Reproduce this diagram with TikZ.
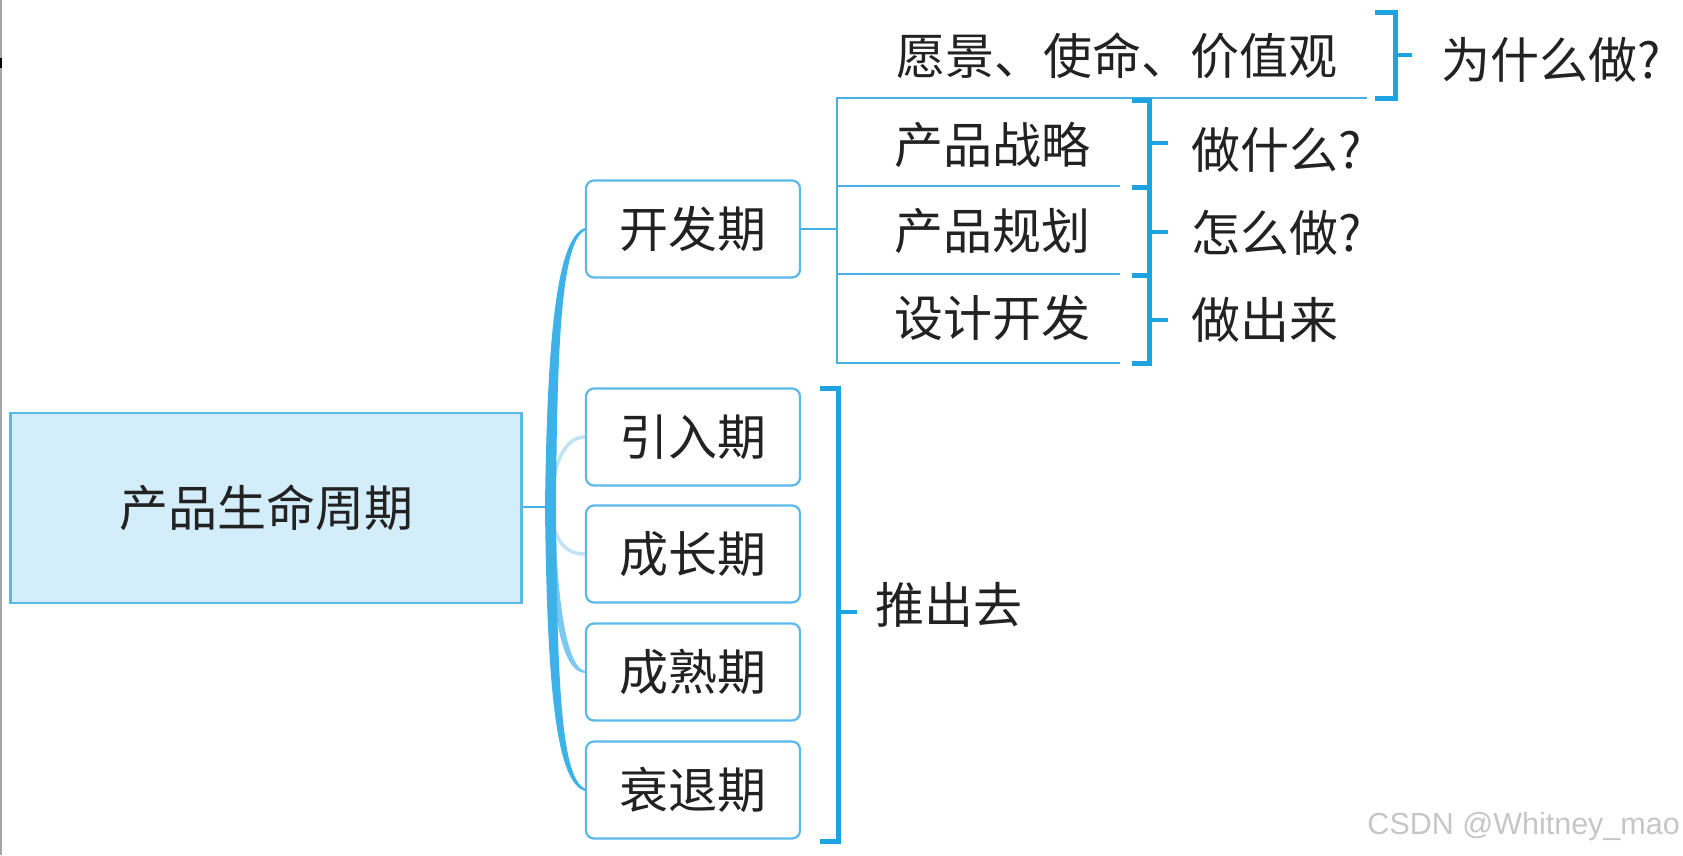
\documentclass[tikz,border=0pt]{standalone}
\usepackage{fontspec}
\newfontfamily\cjk{Noto Sans CJK SC}
\setsansfont{Liberation Sans}
\usetikzlibrary{calc}
\definecolor{boxline}{HTML}{5BB8E8}
\definecolor{rootfill}{HTML}{D4EDFA}
\definecolor{trunk}{HTML}{3DB2E8}
\definecolor{midtrunk}{HTML}{7CC8EE}
\definecolor{faint}{HTML}{BFE2F4}
\definecolor{brk}{HTML}{1DA4E0}
\definecolor{thin}{HTML}{45B0E6}
\definecolor{txt}{HTML}{222222}
\begin{document}
\begin{tikzpicture}[x=1pt,y=-1pt,
  lbl/.style={font=\cjk\fontsize{49}{52}\selectfont, text=txt, inner sep=0pt},
  stage/.style={lbl, draw=boxline, line width=2.2pt, rounded corners=8pt, minimum width=214pt, minimum height=97pt, fill=white},
  rootbox/.style={lbl, draw=boxline, line width=2.5pt, fill=rootfill, minimum width=511pt, minimum height=190pt},
  bracket/.style={draw=brk, line width=5pt},
  tick/.style={draw=brk, line width=4.5pt},
  thinline/.style={draw=thin, line width=2pt},
]
\useasboundingbox (0,0) rectangle (1683,855);
\fill[white] (0,0) rectangle (1683,855);
\draw[gray!70, line width=2pt] (1,0) -- (1,855);
\draw[black, line width=2pt] (1,58) -- (1,68);

% root and stages
\node[rootbox] (root) at (266,508) {产品生命周期};
\node[stage] (kf) at (693,229) {开发期};
\node[stage] (yr) at (693,437) {引入期};
\node[stage] (cz) at (693,554) {成长期};
\node[stage] (cs) at (693,672) {成熟期};
\node[stage] (st) at (693,790) {衰退期};

\coordinate (J) at (550,507);
\draw[thinline] (root.east |- J) -- (J);
% faint branches
\draw[faint, line width=3.5pt] (J) .. controls (553,462) and (565,437) .. (yr.west);
\draw[faint, line width=3.5pt] (J) .. controls (553,540) and (565,554) .. (cz.west);
% tapered branches
\fill[midtrunk] (548,507) .. controls (551,630) and (565,672) .. ($(cs.west)+(0,1)$) -- ($(cs.west)+(0,-1)$) .. controls (570,668) and (557,620) .. (555,507) -- cycle;
\fill[trunk] (545,507) .. controls (547,350) and (555,238) .. ($(kf.west)+(0,-1)$) -- ($(kf.west)+(0,1.5)$) .. controls (561,242) and (557,350) .. (556,507) -- cycle;
\fill[trunk] (545,507) .. controls (547,680) and (555,782) .. ($(st.west)+(0,1)$) -- ($(st.west)+(0,-1.5)$) .. controls (561,778) and (557,680) .. (556,507) -- cycle;

% development sub-structure
\coordinate (vt) at (837,98);
\coordinate (vb) at (837,363);
\draw[thinline] (kf.east) -- (kf.east -| vt);
\draw[thinline] (1367,98) -- (vt) -- (vb) -- (1120,363);
\draw[thinline] (837,186) -- (1120,186);
\draw[thinline] (837,274) -- (1120,274);

\node[lbl] (yj) at (1117,56) {愿景、使命、价值观};
\node[lbl] (zl) at (992,145) {产品战略};
\node[lbl] (gh) at (992,231) {产品规划};
\node[lbl] (sj) at (992,318) {设计开发};

% brackets
\draw[bracket] (1375,12) -- (1395,12) -- (1395,98) -- (1375,98);
\draw[tick] (1395,55) -- (1412,55);
\draw[bracket] (1132,100) -- (1149,100) -- (1149,363) -- (1132,363);
\draw[bracket] (1132,187) -- (1149,187);
\draw[bracket] (1132,275) -- (1149,275);
\draw[tick] (1149,143) -- (1168,143);
\draw[tick] (1149,232) -- (1168,232);
\draw[tick] (1149,320) -- (1168,320);
\draw[bracket] (820,388) -- (838,388) -- (838,841) -- (820,841);
\draw[tick] (838,612) -- (857,612);

\node[lbl, anchor=west] (wsm) at (1441,60) {为什么做?};
\node[lbl, anchor=west] (zsm) at (1191,150) {做什么?};
\node[lbl, anchor=west] (zmz) at (1191,233) {怎么做?};
\node[lbl, anchor=west] (zcl) at (1191,320) {做出来};
\node[lbl, anchor=west] (tcq) at (875,605) {推出去};

\node[anchor=base east, inner sep=0pt, font=\sffamily\fontsize{30.5}{32}\selectfont, text=gray!45] (wm) at (1680,834) {CSDN @Whitney\_mao};
\end{tikzpicture}
\end{document}
